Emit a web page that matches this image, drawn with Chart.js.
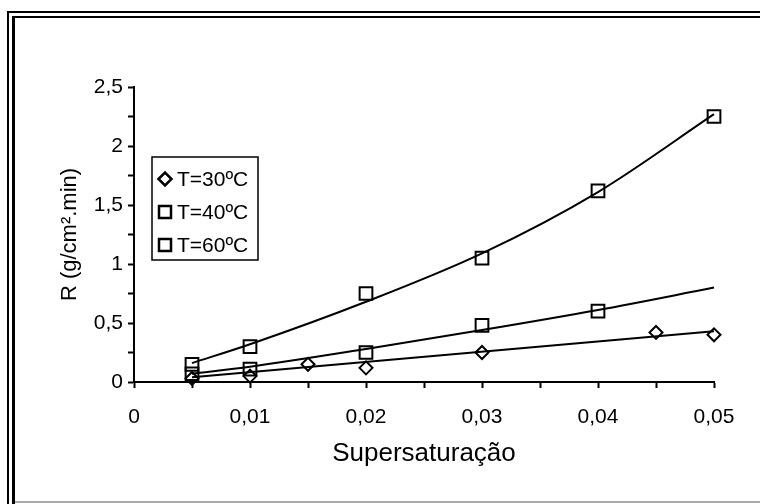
<!DOCTYPE html>
<html>
<head>
<meta charset="utf-8">
<script src="https://cdn.jsdelivr.net/npm/chart.js@4"></script>
<style>
  html, body { margin: 0; padding: 0; background: #fff; }
  #wrap { position: relative; width: 760px; height: 504px; overflow: hidden; }
  canvas { position: absolute; left: 0; top: 0; }
  .frame { position: absolute; border-style: solid; border-color: #000; border-right: none; border-bottom: none; }
  #outer { left: 7px; top: 11px; width: 760px; height: 500px; border-left-width: 2px; border-top-width: 2px; }
  #inner { left: 12px; top: 16px; width: 760px; height: 500px; border-left-width: 3px; border-top-width: 2px; }
  #bottom { position: absolute; left: 15px; top: 501px; width: 745px; height: 2px; background: #aaa; }
</style>
</head>
<body>
<div id="wrap">
  <canvas id="myChart" width="760" height="504"></canvas>
  <div class="frame" id="outer"></div>
  <div class="frame" id="inner"></div>
  <div id="bottom"></div>
</div>
<script>
// measured points (supersaturation, R)
const labels = ["T=30ºC", "T=40ºC", "T=60ºC"];

const x30 = [0.005, 0.01, 0.015, 0.02, 0.03, 0.045, 0.05];
const r30 = [0.03, 0.05, 0.15, 0.12, 0.25, 0.42, 0.40];

const x40 = [0.005, 0.01, 0.02, 0.03, 0.04];
const r40 = [0.07, 0.11, 0.25, 0.48, 0.60];

const x60 = [0.005, 0.01, 0.02, 0.03, 0.04, 0.05];
const r60 = [0.15, 0.30, 0.75, 1.05, 1.62, 2.25];

// trend lines
const fitX30 = [0.005, 0.05];
const fit30 = [0.04, 0.43];
const fitX40 = [0.005, 0.01, 0.02, 0.03, 0.04, 0.05];
const fit40 = [0.07, 0.13, 0.28, 0.44, 0.61, 0.80];
const fitX60 = [0.005, 0.01, 0.02, 0.03, 0.04, 0.05];
const fit60 = [0.16, 0.32, 0.68, 1.09, 1.61, 2.27];

// axis ticks
const xTicks = [0, 0.01, 0.02, 0.03, 0.04, 0.05];
const yTicks = [0, 0.5, 1, 1.5, 2, 2.5];

const FONT = "'Liberation Sans', Arial, sans-serif";

function toPoints(xs, ys) {
  return xs.map((x, i) => ({ x: x, y: ys[i] }));
}

function fmt(v) {
  return String(Math.round(v * 1000) / 1000).replace(".", ",");
}

function isMajor(v, list) {
  return list.some((t) => Math.abs(t - v) < 1e-9);
}

Chart.defaults.font.family = FONT;
Chart.defaults.color = "#000";

// legend box drawn inside the plot, like the original
const boxLegend = {
  id: "boxLegend",
  afterDraw(chart) {
    const ctx = chart.ctx;
    const left = 152, top = 157, w = 106, h = 103;
    ctx.save();
    ctx.fillStyle = "#fff";
    ctx.fillRect(left, top, w, h);
    ctx.strokeStyle = "#000";
    ctx.lineWidth = 1.5;
    ctx.strokeRect(left, top, w, h);
    ctx.font = "21px " + FONT;
    ctx.fillStyle = "#000";
    ctx.textBaseline = "middle";
    const styles = ["rectRot", "rect", "rect"];
    labels.forEach((lab, i) => {
      const cy = top + 22 + i * 33;
      const cx = 165;
      ctx.lineWidth = 2.5;
      ctx.beginPath();
      if (styles[i] === "rectRot") {
        ctx.moveTo(cx - 6.5, cy);
        ctx.lineTo(cx, cy - 6.5);
        ctx.lineTo(cx + 6.5, cy);
        ctx.lineTo(cx, cy + 6.5);
        ctx.closePath();
      } else {
        ctx.rect(cx - 6, cy - 6, 12, 12);
      }
      ctx.stroke();
      ctx.fillText(lab, 177, cy + 1);
    });
    ctx.restore();
  },
};

const markerBase = {
  borderColor: "#000",
  backgroundColor: "rgba(0,0,0,0)",
  borderWidth: 2,
  showLine: false,
  clip: false,
  order: 1,
};

const lineBase = {
  borderColor: "#000",
  borderWidth: 2,
  pointRadius: 0,
  showLine: true,
  cubicInterpolationMode: "monotone",
  clip: false,
  order: 2,
};

const ctx = document.getElementById("myChart").getContext("2d");

new Chart(ctx, {
  type: "scatter",
  data: {
    datasets: [
      Object.assign({}, markerBase, { label: labels[0], data: toPoints(x30, r30), pointStyle: "rectRot", pointRadius: 6.5 }),
      Object.assign({}, markerBase, { label: labels[1], data: toPoints(x40, r40), pointStyle: "rect", pointRadius: 9 }),
      Object.assign({}, markerBase, { label: labels[2], data: toPoints(x60, r60), pointStyle: "rect", pointRadius: 9 }),
      Object.assign({}, lineBase, { label: "fit30", data: toPoints(fitX30, fit30) }),
      Object.assign({}, lineBase, { label: "fit40", data: toPoints(fitX40, fit40) }),
      Object.assign({}, lineBase, { label: "fit60", data: toPoints(fitX60, fit60) }),
    ],
  },
  options: {
    responsive: false,
    animation: false,
    layout: { padding: { left: 0, right: 46, top: 87, bottom: 0 } },
    plugins: {
      legend: { display: false },
      tooltip: { enabled: false },
    },
    scales: {
      x: {
        type: "linear",
        min: 0,
        max: 0.05,
        afterFit(scale) { scale.height = 122; },
        ticks: {
          stepSize: 0.005,
          autoSkip: false,
          maxRotation: 0,
          padding: 17,
          font: { size: 21 },
          callback: (v) => (isMajor(v, xTicks) ? fmt(v) : ""),
        },
        grid: { drawOnChartArea: false, tickLength: 6, tickWidth: 2, tickColor: "#000" },
        border: { color: "#000", width: 2 },
        title: {
          display: true,
          text: "Supersaturação",
          font: { size: 26 },
          padding: { top: 0, bottom: 35 },
        },
      },
      y: {
        type: "linear",
        min: 0,
        max: 2.5,
        afterFit(scale) { scale.width = 134; },
        ticks: {
          stepSize: 0.25,
          autoSkip: false,
          padding: 5,
          font: { size: 21 },
          callback: (v) => (isMajor(v, yTicks) ? fmt(v) : ""),
        },
        grid: { drawOnChartArea: false, tickLength: 6, tickWidth: 2, tickColor: "#000" },
        border: { color: "#000", width: 2 },
        title: {
          display: true,
          text: "R (g/cm².min)",
          font: { size: 22 },
          padding: { top: 57, bottom: 0 },
        },
      },
    },
  },
  plugins: [boxLegend],
});
</script>
</body>
</html>
